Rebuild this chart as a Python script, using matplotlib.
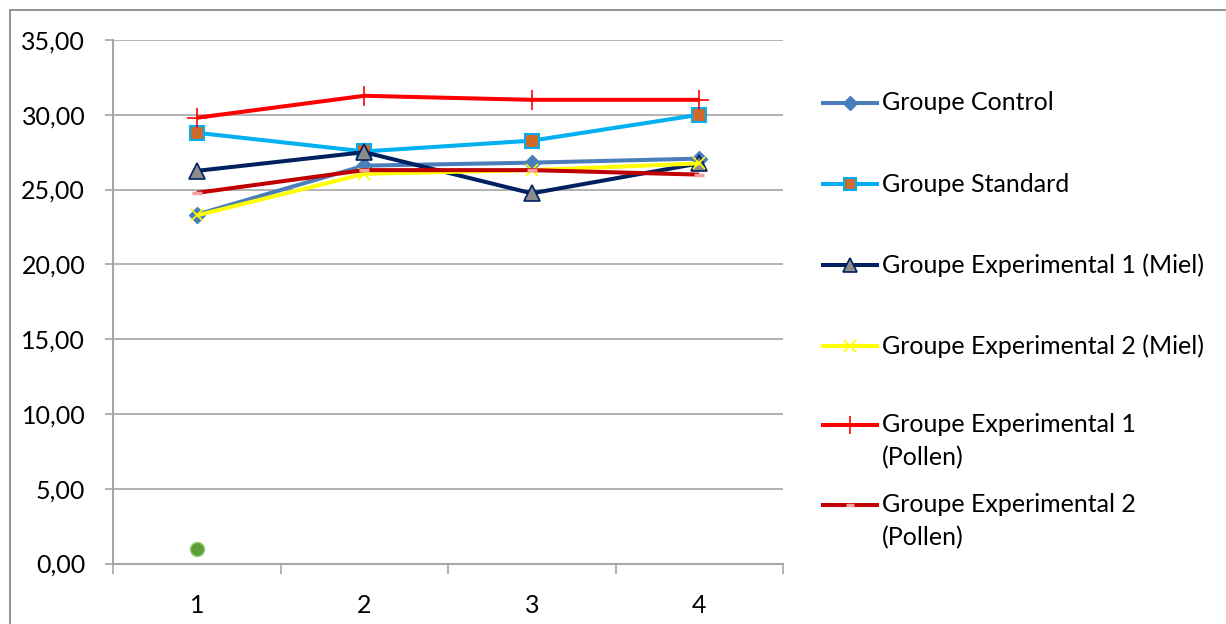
import matplotlib
matplotlib.use("Agg")
import matplotlib.pyplot as plt
from matplotlib.lines import Line2D

plt.rcParams['font.family'] = ['Lato', 'DejaVu Sans']

# Data
x_labels = ["1", "2", "3", "4"]
groupe_control = [23.33, 26.6, 26.8, 27.07]
groupe_standard = [28.8, 27.55, 28.27, 30.0]
exp1_miel = [26.25, 27.5, 24.75, 26.75]
exp2_miel = [23.27, 26.05, 26.3, 26.75]
exp1_pollen = [29.8, 31.27, 31.0, 31.0]
exp2_pollen = [24.78, 26.3, 26.3, 26.0]
extra_point = [1.0]

series_names = [
    "Groupe Control",
    "Groupe Standard",
    "Groupe Experimental 1 (Miel)",
    "Groupe Experimental 2 (Miel)",
    "Groupe Experimental 1\n(Pollen)",
    "Groupe Experimental 2\n(Pollen)",
]

W, H = 1226, 624
FS = 18
fig = plt.figure(figsize=(W / 100, H / 100), dpi=100)

def fx(px):
    return px / W

def fy(py):
    return 1 - py / H

ax = fig.add_axes([fx(113), fy(563.5), fx(783) - fx(113), fy(40) - fy(563.5)])

styles = [
    dict(color="#4A7EBB", marker="D", ms=8, mfc="#4A7EBB", mec="#4A7EBB", mew=1),
    dict(color="#00B0F0", marker="s", ms=10, mfc="#D0692A", mec="#00B0F0", mew=1.5),
    dict(color="#002060", marker="^", ms=11, mfc="#8C8C8C", mec="#002060", mew=1.2),
    dict(color="#FFFF00", marker="x", ms=9, mfc="#FFFF00", mec="#FFFF00", mew=1.2),
    dict(color="#FF0000", marker="+", ms=14, mfc="#FF0000", mec="#FF0000", mew=1.2),
    dict(color="#C00000", marker="_", ms=7, mfc="#C00000", mec="#F2A0A0", mew=2.5),
]

all_series = [groupe_control, groupe_standard, exp1_miel, exp2_miel, exp1_pollen, exp2_pollen]
xs = list(range(1, len(x_labels) + 1))
for vals, st in zip(all_series, styles):
    ax.plot(xs, vals, lw=2.9, solid_capstyle="butt", zorder=3, **st)

ax.plot([1], extra_point, marker="o", ms=10, color="#5E9E3A", mec="#8DCB6A",
        mew=1, ls="none", zorder=4)

ax.set_xlim(0.5, 4.5)
ax.set_ylim(0, 35)
yt = [0, 5, 10, 15, 20, 25, 30, 35]
ax.set_yticks(yt)
ax.set_yticklabels([f"{v:.2f}".replace(".", ",") for v in yt])
ax.set_xticks(xs)
ax.set_xticklabels(x_labels)
ax.set_xticks([0.5, 1.5, 2.5, 3.5, 4.5], minor=True)
ax.tick_params(axis="x", which="major", length=0, pad=22, labelsize=FS)
ax.tick_params(axis="x", which="minor", length=7, width=1.2, color="#A6A6A6")
ax.tick_params(axis="y", length=6, width=1.2, color="#A6A6A6", pad=14, labelsize=FS)
ax.grid(axis="y", color="#A6A6A6", lw=1.2)
ax.set_axisbelow(True)
for s in ["top", "right"]:
    ax.spines[s].set_visible(False)
for s in ["left", "bottom"]:
    ax.spines[s].set_color("#A6A6A6")
    ax.spines[s].set_linewidth(1.5)

# Chart border (top and left edges)
fig.add_artist(Line2D([fx(10), fx(10)], [fy(10), 0], color="#8C8C8C", lw=1.3,
                      transform=fig.transFigure))
fig.add_artist(Line2D([fx(10), 1], [fy(10), fy(10)], color="#8C8C8C", lw=1.3,
                      transform=fig.transFigure))

# Legend
legend_rows = [103, 184, 265, 346, 425, 505]
for name, st, ry in zip(series_names, styles, legend_rows):
    fig.add_artist(Line2D([fx(823), fx(877)], [fy(ry), fy(ry)], lw=2.9,
                          color=st["color"], transform=fig.transFigure))
    fig.add_artist(Line2D([fx(850)], [fy(ry)], marker=st["marker"], ms=st["ms"] * 0.9,
                          mfc=st["mfc"], mec=st["mec"], mew=st["mew"], ls="none",
                          transform=fig.transFigure))
    for i, line in enumerate(name.split("\n")):
        fig.text(fx(882), fy(ry + 33 * i), line, fontsize=FS, va="center", ha="left")

fig.savefig("out.png", dpi=100, facecolor="white")
